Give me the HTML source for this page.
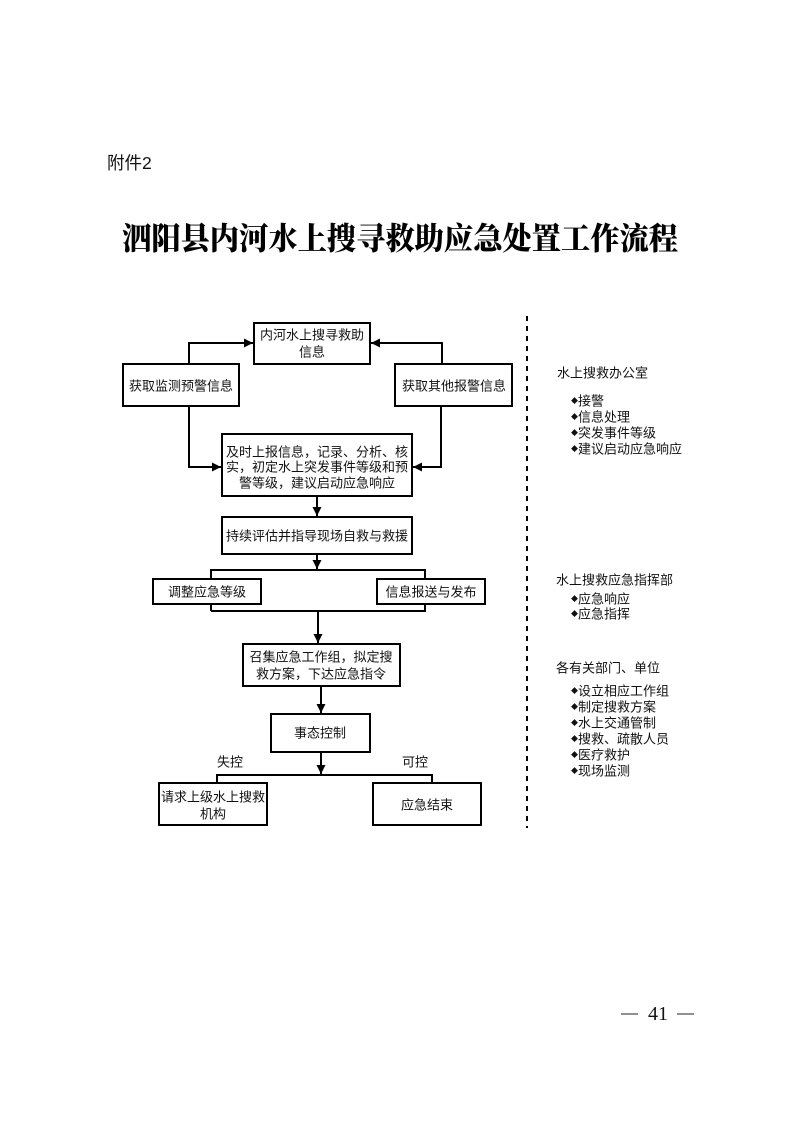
<!DOCTYPE html>
<html>
<head>
<meta charset="utf-8">
<style>
html,body{margin:0;padding:0;background:#fff;}
body{width:793px;height:1122px;overflow:hidden;position:relative;}
svg{position:absolute;left:0;top:0;}
.t{font-family:"Liberation Sans","Noto Sans CJK SC",sans-serif;font-size:13px;fill:#111;}
</style>
</head>
<body>
<svg width="793" height="1122" viewBox="0 0 793 1122" xmlns="http://www.w3.org/2000/svg">
<defs>
<marker id="ah" viewBox="0 0 10 10" refX="10" refY="5" markerWidth="9" markerHeight="9" markerUnits="userSpaceOnUse" orient="auto">
<path d="M0,0 L10,5 L0,10 z" fill="#000"/>
</marker>
</defs>

<!-- header -->
<text x="107" y="163" font-family="Liberation Sans,'Noto Sans CJK SC',sans-serif" font-size="17.5" fill="#111" dominant-baseline="central">附件2</text>
<text x="400" y="239" text-anchor="middle" font-family="'Liberation Serif','Noto Serif CJK SC',serif" font-weight="900" font-size="31" fill="#000" dominant-baseline="central" textLength="556" lengthAdjust="spacingAndGlyphs">泗阳县内河水上搜寻救助应急处置工作流程</text>

<g stroke="#000" stroke-width="2" fill="none">
<polyline points="189,364 189,343 253,343" marker-end="url(#ah)"/>
<polyline points="442,364 442,343 371,343" marker-end="url(#ah)"/>
<polyline points="189,406 189,467 221,467" marker-end="url(#ah)"/>
<polyline points="441,406 441,467 413,467" marker-end="url(#ah)"/>
<line x1="317" y1="496" x2="317" y2="516" marker-end="url(#ah)"/>
<line x1="317" y1="554" x2="317" y2="569" marker-end="url(#ah)"/>
<polyline points="211,611 211,570 425,570 425,611 211,611"/>
<line x1="318" y1="611" x2="318" y2="643" marker-end="url(#ah)"/>
<line x1="321" y1="686" x2="321" y2="713" marker-end="url(#ah)"/>
<line x1="321" y1="752" x2="321" y2="774" marker-end="url(#ah)"/>
<polyline points="217,783 217,775 432,775 432,783"/>
</g>

<g stroke="#000" stroke-width="2" fill="#fff">
<rect x="254" y="323" width="116" height="41"/>
<rect x="123" y="364" width="116" height="42"/>
<rect x="395" y="364" width="117" height="42"/>
<rect x="222" y="434" width="190" height="62"/>
<rect x="222" y="517" width="190" height="37"/>
<rect x="153" y="579" width="108" height="25"/>
<rect x="377" y="579" width="108" height="25"/>
<rect x="243" y="644" width="157" height="42"/>
<rect x="271" y="714" width="99" height="38"/>
<rect x="159" y="783" width="108" height="42"/>
<rect x="373" y="783" width="108" height="42"/>
</g>

<g class="t" text-anchor="middle" dominant-baseline="central">
<text x="312" y="335" dominant-baseline="central">内河水上搜寻救助</text>
<text x="312" y="352" dominant-baseline="central">信息</text>
<text x="181" y="386" dominant-baseline="central">获取监测预警信息</text>
<text x="454" y="386" dominant-baseline="central">获取其他报警信息</text>
<text x="317" y="452" dominant-baseline="central">及时上报信息，记录、分析、核</text>
<text x="317" y="467" dominant-baseline="central">实，初定水上突发事件等级和预</text>
<text x="317" y="483" dominant-baseline="central">警等级，建议启动应急响应</text>
<text x="317" y="536" dominant-baseline="central">持续评估并指导现场自救与救援</text>
<text x="207" y="592" dominant-baseline="central">调整应急等级</text>
<text x="431" y="592" dominant-baseline="central">信息报送与发布</text>
<text x="321" y="657" dominant-baseline="central">召集应急工作组，拟定搜</text>
<text x="321" y="674" dominant-baseline="central">救方案，下达应急指令</text>
<text x="320" y="733" dominant-baseline="central">事态控制</text>
<text x="230" y="762" dominant-baseline="central">失控</text>
<text x="415" y="762" dominant-baseline="central">可控</text>
<text x="213" y="797" dominant-baseline="central">请求上级水上搜救</text>
<text x="213" y="814" dominant-baseline="central">机构</text>
<text x="427" y="805" dominant-baseline="central">应急结束</text>
</g>

<line x1="527" y1="316" x2="527" y2="828" stroke="#000" stroke-width="2" stroke-dasharray="5,5"/>

<g class="t" dominant-baseline="central">
<text x="557" y="373" dominant-baseline="central">水上搜救办公室</text>
<text x="571" y="401" dominant-baseline="central"><tspan font-size="7">◆</tspan>接警</text>
<text x="571" y="417" dominant-baseline="central"><tspan font-size="7">◆</tspan>信息处理</text>
<text x="571" y="433" dominant-baseline="central"><tspan font-size="7">◆</tspan>突发事件等级</text>
<text x="571" y="449" dominant-baseline="central"><tspan font-size="7">◆</tspan>建议启动应急响应</text>

<text x="556" y="580" dominant-baseline="central">水上搜救应急指挥部</text>
<text x="571" y="599" dominant-baseline="central"><tspan font-size="7">◆</tspan>应急响应</text>
<text x="571" y="614" dominant-baseline="central"><tspan font-size="7">◆</tspan>应急指挥</text>

<text x="556" y="668" dominant-baseline="central">各有关部门、单位</text>
<text x="571" y="691" dominant-baseline="central"><tspan font-size="7">◆</tspan>设立相应工作组</text>
<text x="571" y="707" dominant-baseline="central"><tspan font-size="7">◆</tspan>制定搜救方案</text>
<text x="571" y="723" dominant-baseline="central"><tspan font-size="7">◆</tspan>水上交通管制</text>
<text x="571" y="739" dominant-baseline="central"><tspan font-size="7">◆</tspan>搜救、疏散人员</text>
<text x="571" y="755" dominant-baseline="central"><tspan font-size="7">◆</tspan>医疗救护</text>
<text x="571" y="771" dominant-baseline="central"><tspan font-size="7">◆</tspan>现场监测</text>
</g>

<line x1="621" y1="1014" x2="638" y2="1014" stroke="#222" stroke-width="1"/>
<text x="658" y="1014" text-anchor="middle" font-family="'Liberation Serif',serif" font-size="20" fill="#111" dominant-baseline="central">41</text>
<line x1="677" y1="1014" x2="694" y2="1014" stroke="#222" stroke-width="1"/>
</svg>
</body>
</html>
